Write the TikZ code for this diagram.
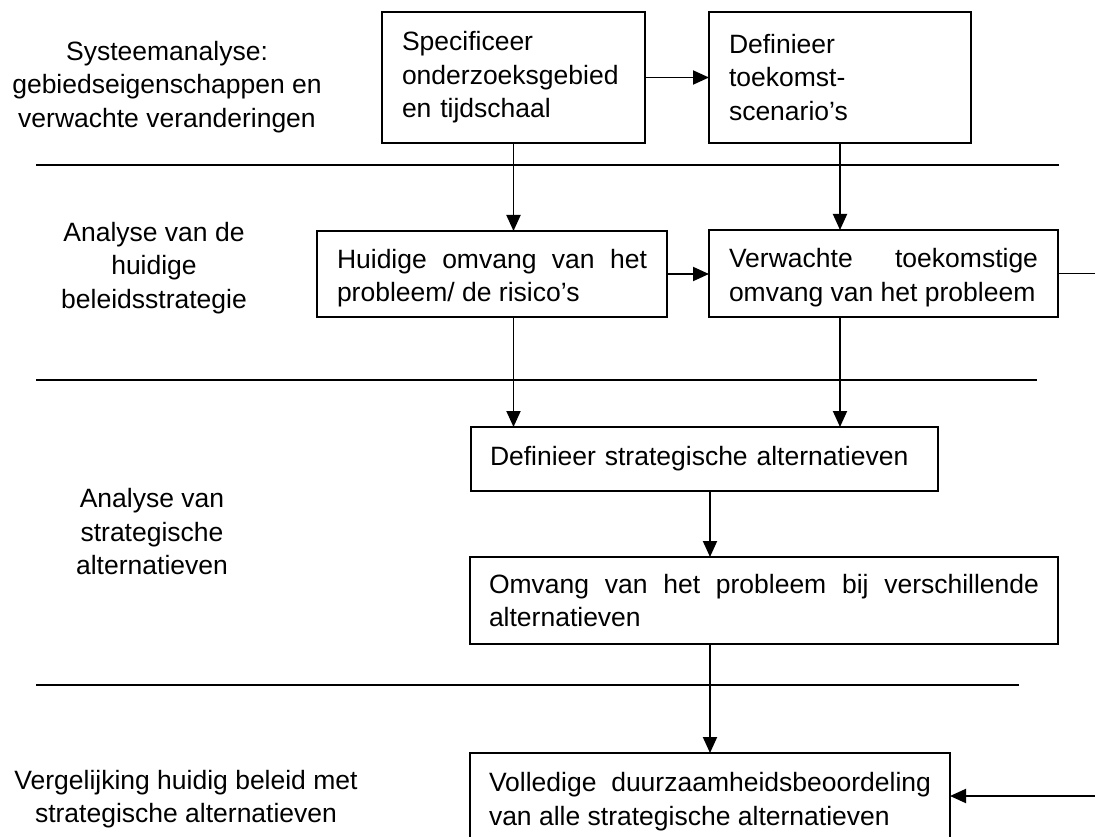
\documentclass[tikz,border=0pt]{standalone}
\usepackage{fontspec}
\setmainfont{Liberation Sans}
\usetikzlibrary{arrows.meta}
\hyphenpenalty=10000
\exhyphenpenalty=10000
\newcommand\bodyfont{\fontsize{26.5}{33.5}\selectfont}
\newcommand\topstrut{\rule{0pt}{27pt}}
\tikzset{
  box/.style={draw, line width=1.9pt, anchor=north west, inner ysep=0pt, outer sep=0pt, font=\bodyfont, align=justify},
  lbl/.style={font=\bodyfont, align=center, inner sep=0pt},
  arr/.style={line width=1.9pt, -{Triangle[length=16pt,width=14pt]}},
  sepline/.style={line width=1.9pt},
}
\begin{document}
\begin{tikzpicture}[x=1pt,y=-1pt]
\useasboundingbox (0,0) rectangle (1095,837);
\clip (0,0) rectangle (1095,837);
% left labels
\node[lbl] (t1) at (167,87) {Systeemanalyse:\\gebiedseigenschappen en\\verwachte veranderingen};
\node[lbl] (t2) at (154,268) {Analyse van de\\huidige\\beleidsstrategie};
\node[lbl] (t3) at (152,532) {Analyse van\\strategische\\alternatieven};
\node[lbl] (t4) at (186,799) {Vergelijking huidig beleid met\\strategische alternatieven};
% separator lines
\coordinate (s1a) at (36,165);  \coordinate (s1b) at (1059,165);
\coordinate (s2a) at (36,380);  \coordinate (s2b) at (1037,380);
\coordinate (s3a) at (36,685);  \coordinate (s3b) at (1019,685);
\draw[sepline] (s1a) -- (s1b);
\draw[sepline] (s2a) -- (s2b);
\draw[sepline] (s3a) -- (s3b);
% boxes
\node[box, align=left, text width=223pt, inner xsep=20pt, minimum height=131pt] (b1) at (382,12) {Specificeer\\onderzoeksgebied\\en tijdschaal};
\node[box, align=left, text width=222pt, inner xsep=20pt, minimum height=131pt] (b2) at (709,12) {Definieer\\toekomst-\\scenario’s};
\node[box, text width=310pt, inner xsep=20pt, minimum height=86pt] (b3) at (317,231) {\topstrut Huidige omvang van het\linebreak probleem/ de risico’s};
\node[box, text width=309pt, inner xsep=20pt, minimum height=87pt] (b4) at (709,230) {\topstrut Verwachte toekomstige\linebreak omvang van het probleem};
\node[box, align=left, text width=429pt, inner xsep=19pt, minimum height=64pt] (b5) at (471,427) {Definieer strategische alternatieven};
\node[box, text width=550pt, inner xsep=19pt, minimum height=87pt] (b6) at (470,557) {Omvang van het probleem bij verschillende\linebreak alternatieven};
\node[box, text width=442pt, inner xsep=19pt, minimum height=97pt] (b7) at (470,753) {Volledige duurzaamheidsbeoordeling\linebreak van alle strategische alternatieven};
% connectors
\draw[arr] (b1.east) -- (b1.east -| b2.west);
\draw[arr] (b1.south) -- (b1.south |- b3.north);
\draw[arr] (b2.south) -- (b2.south |- b4.north);
\draw[arr] (b3.east) -- (b3.east -| b4.west);
\draw[arr] (b1.south |- b3.south) -- (b1.south |- b5.north);
\draw[arr] (b2.south |- b4.south) -- (b2.south |- b5.north);
\draw[arr] (b7.north |- b5.south) -- (b7.north |- b6.north);
\draw[arr] (b7.north |- b6.south) -- (b7.north);
\coordinate (r1) at (1095,273.5);
\draw[sepline] (b4.east) -- (r1);
\coordinate (r2) at (1095,796);
\draw[arr] (r2) -- (r2 -| b7.east);
\end{tikzpicture}
\end{document}
